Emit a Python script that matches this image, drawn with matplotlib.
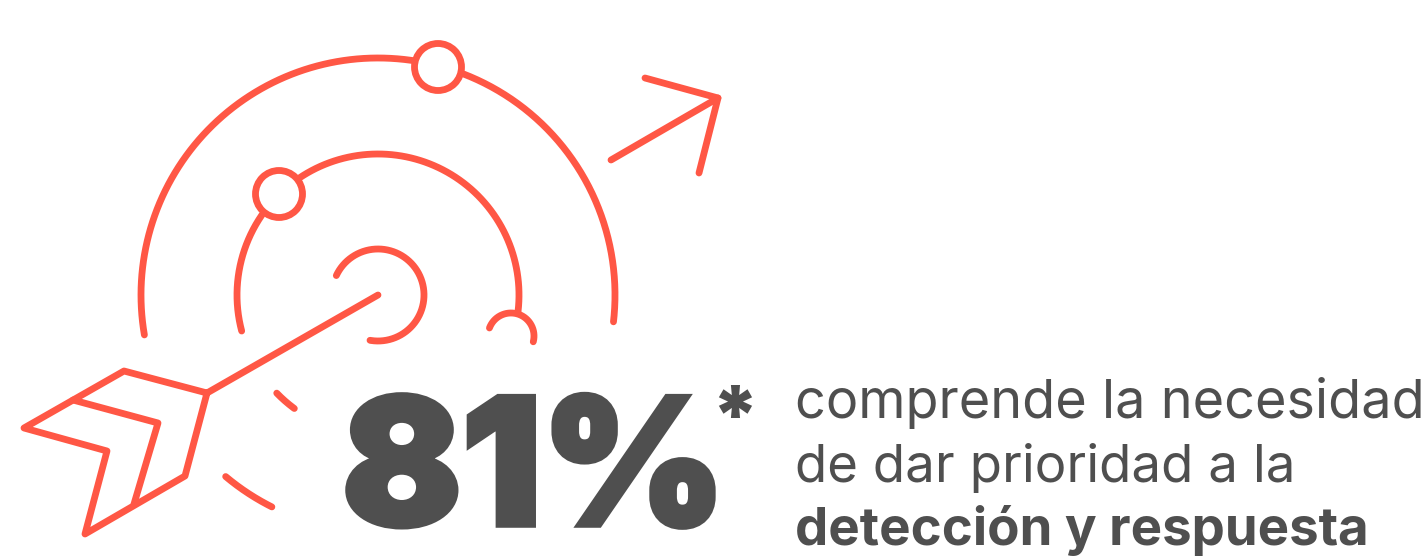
"""Target/arrow infographic with the 81% callout, drawn in pixel coordinates."""

import numpy as np
import matplotlib

matplotlib.use("Agg")

import matplotlib.patheffects as pe  # noqa: E402
import matplotlib.pyplot as plt  # noqa: E402
from matplotlib.patches import Circle  # noqa: E402

CORAL = "#ff5745"
GREY = "#4f4f4f"
STROKE = 4.9

CENTER = (378, 295)
# radius, start angle, end angle (degrees, counter-clockwise from east)
RINGS = [
    (237, 189.7, 81.5),
    (237, 69, -6.5),
    (141, 194.8, 145.4),
    (141, 124, -7.3),
    (46, 155, -100),
    (141, 224.1, 233.6),
    (237, 230, 243.4),
]
SMALL_ARC = (511, 336, 23, 159.6, -14.6)
KNOTS = [(438, 67, 23.5), (279, 194, 23.5)]

SHAFT = [(378, 295), (207, 393)]
FLETCH_OUTLINE = [(207, 393), (124, 371), (24, 428), (107, 451), (85, 534), (185, 476), (207, 393)]
FLETCH_INNER = [(73, 400), (158, 423), (134, 504)]
ARROW_TAIL = [(611, 160), (718, 98)]
ARROW_HEAD = [(645, 78), (718, 98), (699, 173)]

BIG_NUMBER = "81%"
NOTE_MARK = "*"
LINES = ["comprende la necesidad", "de dar prioridad a la"]
BOLD_LINE = "detección y respuesta"


def stroke(ax, xs, ys):
    ax.plot(xs, ys, color=CORAL, lw=STROKE, solid_capstyle="round", solid_joinstyle="round")


def arc(ax, cx, cy, r, start, end):
    t = np.radians(np.linspace(start, end, 200))
    stroke(ax, cx + r * np.cos(t), cy - r * np.sin(t))


fig = plt.figure(figsize=(14.22, 5.58), dpi=100)
ax = fig.add_axes([0, 0, 1, 1])
ax.set_xlim(0, 1422)
ax.set_ylim(558, 0)
ax.axis("off")

for r, start, end in RINGS:
    arc(ax, CENTER[0], CENTER[1], r, start, end)
arc(ax, *SMALL_ARC)

for x, y, r in KNOTS:
    ax.add_patch(Circle((x, y), r, fill=False, ec=CORAL, lw=STROKE))

for path in (SHAFT, FLETCH_OUTLINE, FLETCH_INNER, ARROW_TAIL, ARROW_HEAD):
    stroke(ax, [p[0] for p in path], [p[1] for p in path])

big = ax.text(342, 525, BIG_NUMBER, family="Inter", weight=900, fontsize=127, color=GREY, ha="left", va="baseline")
# heavier than Inter Black goes, square corners like the original lettering
big.set_path_effects([pe.Stroke(linewidth=4, foreground=GREY, joinstyle="miter"), pe.Normal()])
ax.text(735, 444, NOTE_MARK, family="Inter", weight=900, fontsize=58, color=GREY, ha="center", va="baseline")
ax.text(795, 418, LINES[0], family="Inter", fontsize=38.9, color=GREY, ha="left", va="baseline")
ax.text(795, 482, LINES[1], family="Inter", fontsize=38, color=GREY, ha="left", va="baseline")
ax.text(795, 545, BOLD_LINE, family="Inter", weight="bold", fontsize=38, color=GREY, ha="left", va="baseline")

fig.savefig("out.png", dpi=100)
plt.close(fig)
